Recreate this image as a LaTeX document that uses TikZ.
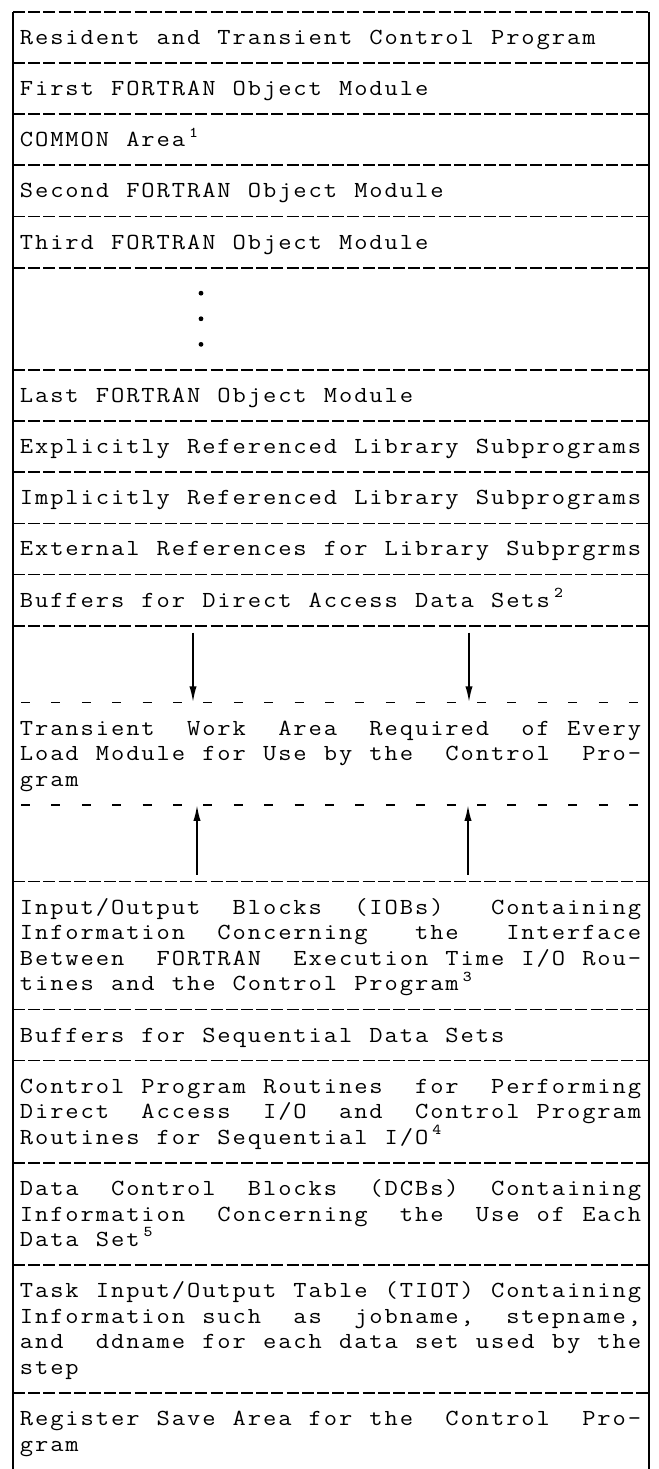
\documentclass[tikz,border=0pt]{standalone}
\usepackage{fontspec}
\usepackage{graphicx}
\usetikzlibrary{arrows.meta}
\makeatletter
\newlength\TWpitch \setlength\TWpitch{7.6pt}
\newcommand\TWline[1]{\@tfor\TW@c:=#1\do{\makebox[\TWpitch][c]{\scalebox{1.12}[1]{\TW@c}}}}
\makeatother
\newcommand\SUPn[1]{\raisebox{0.42em}{\fontsize{7.5pt}{7.5pt}\selectfont #1}}
\tikzset{
  declare function={ry(\n)=11.8+25.58*\n;},
  rowtext/.style={anchor=base west, inner sep=0pt, font=\ttfamily\fontsize{11.5pt}{12pt}\selectfont\addfontfeatures{FakeBold=1.2}},
  sepline/.style={line width=0.9pt, dash pattern=on 6pt off 1.6pt},
  shortdash/.style={line width=0.9pt, dash pattern=on 4.5pt off 10.7pt},
  border/.style={line width=0.9pt},
  arr/.style={line width=1pt, -{Latex[length=8pt,width=3.6pt]}},
  dotmark/.style={fill=black}
}
\begin{document}
\begin{tikzpicture}[x=0.5pt,y=-0.5pt]
\useasboundingbox (0,0) rectangle (659,1469);
\fill[white] (0,0) rectangle (659,1469);
% borders
\draw[border] (13,{ry(0)}) -- (13,1469);
\draw[border] (649,{ry(0)}) -- (649,1469);
% separators
\foreach \n in {0,2,4,6,8,10,14,16,18,20,22,24,34,39,41,45,49,54}
  \draw[sepline] (13,{ry(\n)}) -- (649,{ry(\n)});
\foreach \n in {27,31}
  \draw[shortdash] (21,{ry(\n)}) -- (647,{ry(\n)});
% text rows
\node[rowtext] (t1) at (18.5,{ry(1)+7}) {\TWline{Resident~and~Transient~Control~Program}};
\node[rowtext] (t3) at (18.5,{ry(3)+7}) {\TWline{First~FORTRAN~Object~Module}};
\node[rowtext] (t5) at (18.5,{ry(5)+7}) {\TWline{COMMON~Area{\SUPn{1}}}};
\node[rowtext] (t7) at (18.5,{ry(7)+7}) {\TWline{Second~FORTRAN~Object~Module}};
\node[rowtext] (t9) at (18.5,{ry(9)+7}) {\TWline{Third~FORTRAN~Object~Module}};
\fill[dotmark] (201,{ry(11)}) circle[radius=1.2pt];
\fill[dotmark] (201,{ry(12)}) circle[radius=1.2pt];
\fill[dotmark] (201,{ry(13)}) circle[radius=1.2pt];
\node[rowtext] (t15) at (18.5,{ry(15)+7}) {\TWline{Last~FORTRAN~Object~Module}};
\node[rowtext] (t17) at (18.5,{ry(17)+7}) {\TWline{Explicitly~Referenced~Library~Subprograms}};
\node[rowtext] (t19) at (18.5,{ry(19)+7}) {\TWline{Implicitly~Referenced~Library~Subprograms}};
\node[rowtext] (t21) at (18.5,{ry(21)+7}) {\TWline{External~References~for~Library~Subprgrms}};
\node[rowtext] (t23) at (18.5,{ry(23)+7}) {\TWline{Buffers~for~Direct~Access~Data~Sets{\SUPn{2}}}};
\node[rowtext] (t28) at (18.5,{ry(28)+7}) {\TWline{Transient~~Work~~Area~~Required~~of~Every}};
\node[rowtext] (t29) at (18.5,{ry(29)+7}) {\TWline{Load~Module~for~Use~by~the~~Control~~Pro-}};
\node[rowtext] (t30) at (18.5,{ry(30)+7}) {\TWline{gram}};
\node[rowtext] (t35) at (18.5,{ry(35)+7}) {\TWline{Input/Output~~Blocks~~(IOBs)~~~Containing}};
\node[rowtext] (t36) at (18.5,{ry(36)+7}) {\TWline{Information~~Concerning~~~the~~~Interface}};
\node[rowtext] (t37) at (18.5,{ry(37)+7}) {\TWline{Between~~FORTRAN~~Execution~Time~I/O~Rou-}};
\node[rowtext] (t38) at (18.5,{ry(38)+7}) {\TWline{tines~and~the~Control~Program{\SUPn{3}}}};
\node[rowtext] (t40) at (18.5,{ry(40)+7}) {\TWline{Buffers~for~Sequential~Data~Sets}};
\node[rowtext] (t42) at (18.5,{ry(42)+7}) {\TWline{Control~Program~Routines~~for~~Performing}};
\node[rowtext] (t43) at (18.5,{ry(43)+7}) {\TWline{Direct~~Access~~I/O~~and~~Control~Program}};
\node[rowtext] (t44) at (18.5,{ry(44)+7}) {\TWline{Routines~for~Sequential~I/O{\SUPn{4}}}};
\node[rowtext] (t46) at (18.5,{ry(46)+7}) {\TWline{Data~~Control~~Blocks~~(DCBs)~~Containing}};
\node[rowtext] (t47) at (18.5,{ry(47)+7}) {\TWline{Information~~Concerning~~the~~Use~of~Each}};
\node[rowtext] (t48) at (18.5,{ry(48)+7}) {\TWline{Data~Set{\SUPn{5}}}};
\node[rowtext] (t50) at (18.5,{ry(50)+7}) {\TWline{Task~Input/Output~Table~(TIOT)~Containing}};
\node[rowtext] (t51) at (18.5,{ry(51)+7}) {\TWline{Information~such~~as~~jobname,~~stepname,}};
\node[rowtext] (t52) at (18.5,{ry(52)+7}) {\TWline{and~~ddname~for~each~data~set~used~by~the}};
\node[rowtext] (t53) at (18.5,{ry(53)+7}) {\TWline{step}};
\node[rowtext] (t55) at (18.5,{ry(55)+7}) {\TWline{Register~Save~Area~for~the~~Control~~Pro-}};
\node[rowtext] (t56) at (18.5,{ry(56)+7}) {\TWline{gram}};
% arrows
\coordinate (d1s) at (193,{ry(24)+7});
\coordinate (d1e) at (193,{ry(27)});
\coordinate (d2s) at (469,{ry(24)+7});
\coordinate (d2e) at (469,{ry(27)});
\coordinate (u1s) at (197,{ry(34)-7});
\coordinate (u1e) at (197,{ry(31)});
\coordinate (u2s) at (468,{ry(34)-7});
\coordinate (u2e) at (468,{ry(31)});
\draw[arr] (d1s) -- (d1e);
\draw[arr] (d2s) -- (d2e);
\draw[arr] (u1s) -- (u1e);
\draw[arr] (u2s) -- (u2e);
\end{tikzpicture}
\end{document}
